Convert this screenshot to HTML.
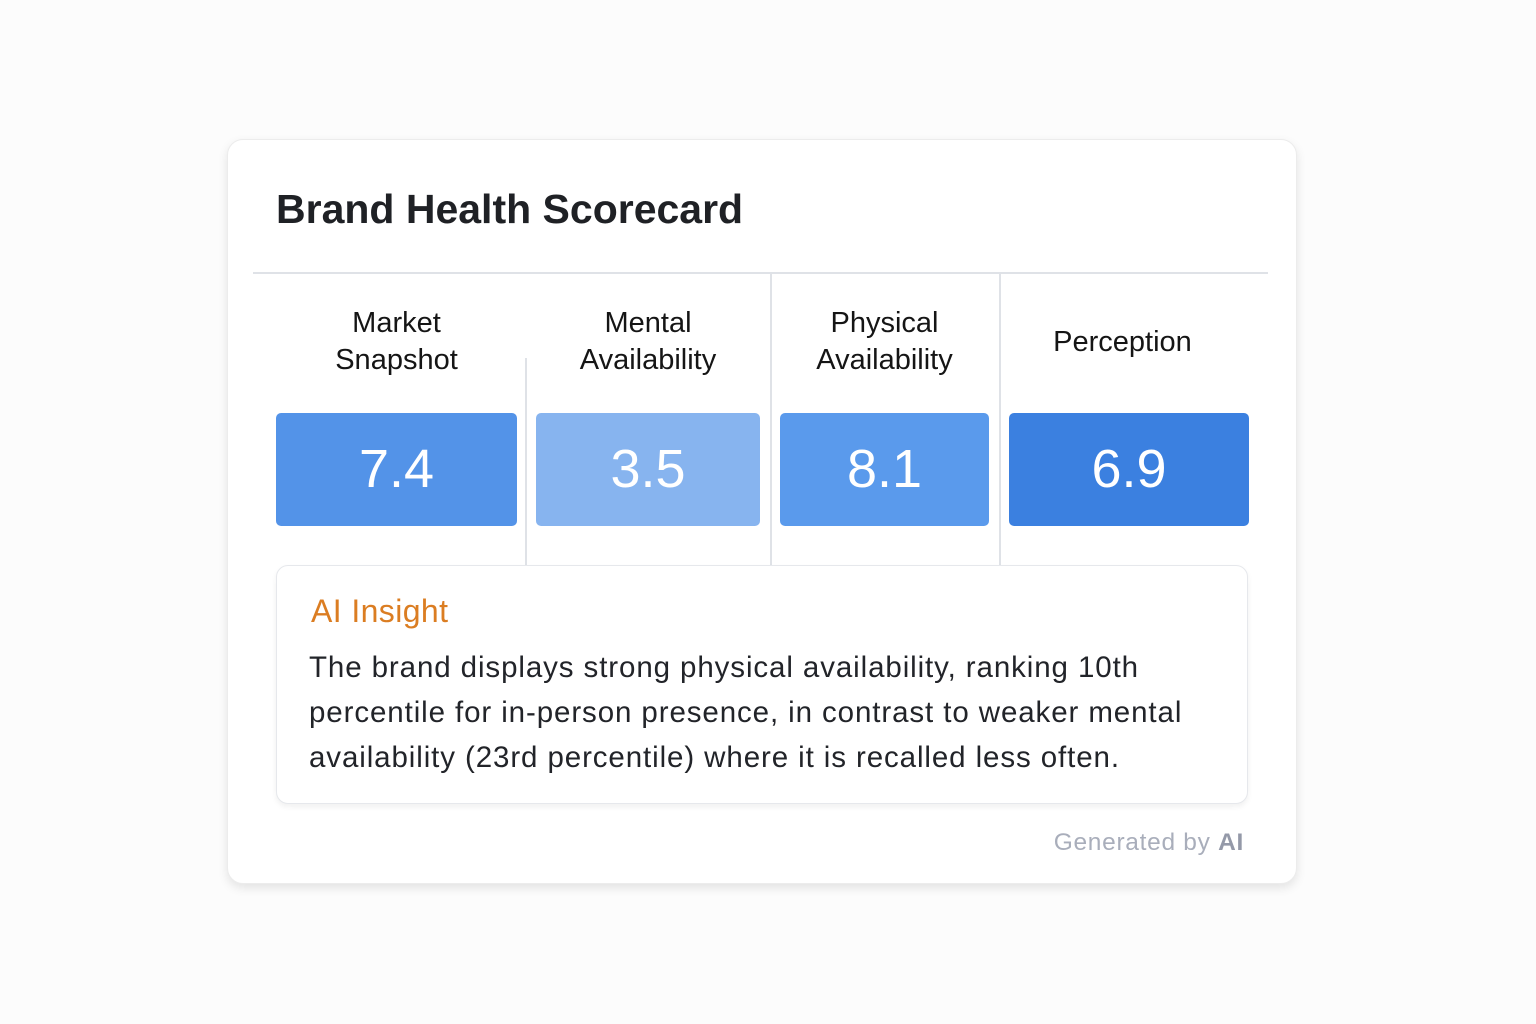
<!DOCTYPE html>
<html><head><meta charset="utf-8"><style>
body{margin:0;width:1536px;height:1024px;background:#fcfcfc;font-family:"Liberation Sans",sans-serif;position:relative;overflow:hidden}
.card{position:absolute;left:227px;top:139px;width:1070px;height:745px;background:#fff;border-radius:16px;border:1px solid #ececec;box-shadow:0 4px 10px rgba(0,0,0,0.10);box-sizing:border-box}
.a{position:absolute;white-space:nowrap}
.title{left:276px;top:186px;font-size:41px;font-weight:bold;color:#1f2125}
.hl{position:absolute;background:#dfe2e7}
.hd{position:absolute;font-size:29px;color:#151515;text-align:center;line-height:37px}
.box{position:absolute;top:413px;height:113px;border-radius:5px;color:#fff;font-size:54px;text-align:center;line-height:113px}
.ins{position:absolute;left:276px;top:565px;width:972px;height:239px;border:1px solid #e6e8ec;border-radius:12px;background:#fff;box-shadow:0 3px 6px rgba(0,0,0,0.06);box-sizing:border-box}
.bt{font-size:29.5px;color:#222429;left:309px;letter-spacing:0.9px}
</style></head><body>
<div class="card"></div>
<div class="a title">Brand Health Scorecard</div>
<div class="hl" style="left:253px;top:272px;width:1015px;height:2px"></div>
<div class="hl" style="left:525px;top:358px;width:2px;height:207px"></div>
<div class="hl" style="left:770px;top:273px;width:2px;height:292px"></div>
<div class="hl" style="left:999px;top:273px;width:2px;height:292px"></div>
<div class="hd" style="left:276px;top:305px;width:241px">Market<br>Snapshot</div>
<div class="hd" style="left:536px;top:305px;width:224px">Mental<br>Availability</div>
<div class="hd" style="left:780px;top:305px;width:209px">Physical<br>Availability</div>
<div class="hd" style="left:1009px;top:324px;width:227px">Perception</div>
<div class="box" style="left:276px;width:241px;background:#5393e8">7.4</div>
<div class="box" style="left:536px;width:224px;background:#87b4ef">3.5</div>
<div class="box" style="left:780px;width:209px;background:#5a9aec">8.1</div>
<div class="box" style="left:1009px;width:240px;background:#3b80e0">6.9</div>
<div class="ins"></div>
<div class="a" style="left:311px;top:593px;font-size:32px;letter-spacing:0.4px;color:#db7d22">AI Insight</div>
<div class="a bt" style="top:651px">The brand displays strong physical availability, ranking 10th</div>
<div class="a bt" style="top:696px">percentile for in-person presence, in contrast to weaker mental</div>
<div class="a bt" style="top:741px">availability (23rd percentile) where it is recalled less often.</div>
<div class="a" style="right:292px;top:829px;font-size:24.5px;letter-spacing:0.7px;color:#a9aebb">Generated by <b style="color:#9499a8">AI</b></div>
</body></html>
